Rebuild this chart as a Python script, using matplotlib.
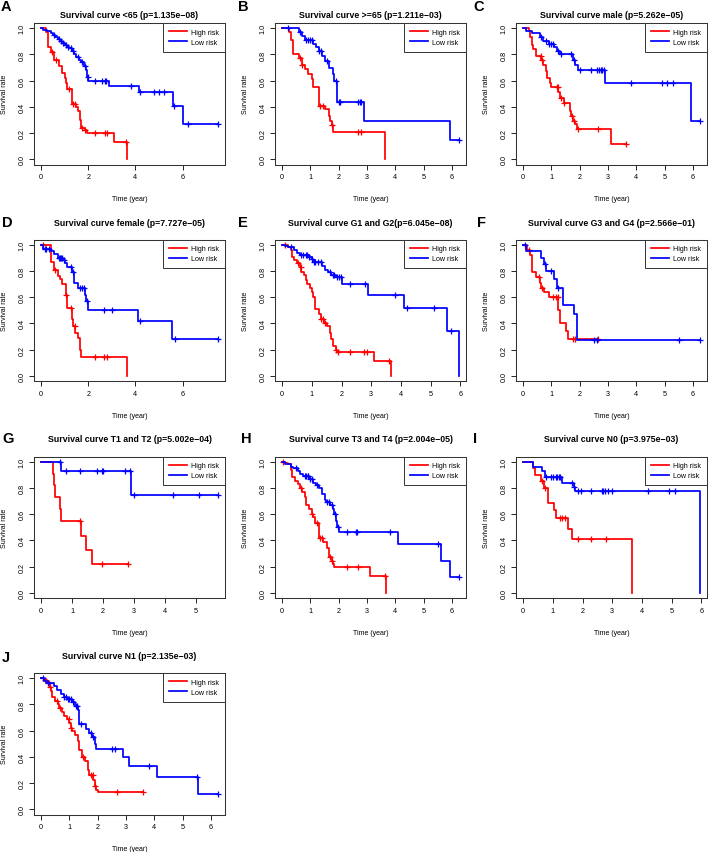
import numpy as np
import matplotlib
matplotlib.use("Agg")
import matplotlib.pyplot as plt

plt.rcParams['font.family'] = ['Liberation Sans', 'DejaVu Sans']

# ---- data: drop times (t), survival after drop (s), censor times (c)
a_hi_t = [0.2, 0.3, 0.4, 0.55, 0.75, 0.9, 1.0, 1.05, 1.1, 1.3, 1.5, 1.55, 1.65, 1.7, 1.85, 1.95, 3.1, 3.66]
a_hi_s = [0.97, 0.86, 0.82, 0.76, 0.71, 0.66, 0.62, 0.58, 0.54, 0.42, 0.40, 0.37, 0.30, 0.24, 0.22, 0.20, 0.13, 0.0]
a_hi_c = [0.45, 0.65, 1.2, 1.35, 1.45, 1.75, 1.85, 2.3, 2.7, 2.8, 3.62]
a_lo_t = [0.1, 0.25, 0.4, 0.5, 0.6, 0.7, 0.8, 0.9, 1.0, 1.1, 1.2, 1.3, 1.4, 1.5, 1.6, 1.7, 1.8, 1.9, 1.95, 2.0, 2.9, 4.15, 5.6, 6.0]
a_lo_s = [0.99, 0.98, 0.96, 0.95, 0.93, 0.92, 0.90, 0.89, 0.87, 0.86, 0.85, 0.83, 0.80, 0.78, 0.76, 0.74, 0.71, 0.68, 0.63, 0.60, 0.56, 0.51, 0.41, 0.27]
a_lo_c = [0.55, 0.75, 0.85, 0.95, 1.05, 1.15, 1.25, 1.35, 1.55, 1.75, 1.85, 1.97, 2.3, 2.6, 2.7, 2.75, 3.8, 4.2, 4.8, 5.0, 5.2, 5.65, 6.25, 7.5]

b_hi_t = [0.25, 0.3, 0.4, 0.6, 0.7, 0.8, 0.9, 1.05, 1.1, 1.3, 1.5, 1.65, 1.7, 1.75, 1.8, 3.65]
b_hi_s = [0.97, 0.91, 0.80, 0.77, 0.72, 0.69, 0.65, 0.61, 0.55, 0.41, 0.38, 0.33, 0.29, 0.26, 0.21, 0.0]
b_hi_c = [0.62, 0.72, 1.35, 1.45, 1.78, 2.7, 2.8]
b_lo_t = [0.6, 0.7, 0.8, 1.1, 1.2, 1.3, 1.4, 1.5, 1.65, 1.8, 1.85, 1.95, 2.9, 5.95]
b_lo_s = [0.97, 0.94, 0.91, 0.88, 0.86, 0.83, 0.79, 0.75, 0.70, 0.65, 0.60, 0.44, 0.29, 0.15]
b_lo_c = [0.2, 0.65, 0.85, 0.9, 1.0, 1.05, 1.32, 1.36, 1.6, 1.9, 2.0, 2.05, 2.7, 2.75, 2.8, 6.25]

c_hi_t = [0.2, 0.25, 0.3, 0.35, 0.45, 0.65, 0.7, 0.8, 0.85, 0.95, 1.0, 1.25, 1.3, 1.45, 1.65, 1.7, 1.75, 1.85, 1.9, 3.1]
c_hi_s = [0.98, 0.93, 0.87, 0.84, 0.79, 0.76, 0.72, 0.67, 0.62, 0.58, 0.55, 0.51, 0.47, 0.43, 0.37, 0.33, 0.29, 0.27, 0.23, 0.12]
c_hi_c = [0.62, 0.68, 1.2, 1.23, 1.35, 1.45, 1.72, 1.8, 1.95, 2.65, 3.65]
c_lo_t = [0.1, 0.3, 0.6, 0.7, 0.9, 1.1, 1.2, 1.3, 1.75, 1.85, 1.95, 2.9, 5.95]
c_lo_s = [0.98, 0.96, 0.93, 0.90, 0.88, 0.86, 0.83, 0.80, 0.76, 0.72, 0.68, 0.58, 0.29]
c_lo_c = [0.62, 0.8, 0.92, 1.0, 1.05, 1.25, 1.35, 1.7, 1.8, 2.0, 2.4, 2.6, 2.7, 2.75, 2.8, 2.85, 3.8, 4.9, 5.1, 5.3, 6.25]

d_hi_t = [0.4, 0.55, 0.7, 0.8, 0.9, 1.05, 1.1, 1.3, 1.35, 1.45, 1.55, 1.65, 1.7, 3.65]
d_hi_s = [0.87, 0.81, 0.76, 0.74, 0.70, 0.62, 0.52, 0.43, 0.38, 0.33, 0.29, 0.20, 0.145, 0.0]
d_hi_c = [0.1, 0.6, 1.07, 1.25, 1.42, 2.3, 2.65, 2.8]
d_lo_t = [0.1, 0.4, 0.55, 0.7, 0.95, 1.0, 1.1, 1.3, 1.4, 1.55, 1.85, 1.9, 2.0, 4.1, 5.55]
d_lo_s = [0.97, 0.95, 0.93, 0.90, 0.88, 0.86, 0.83, 0.79, 0.71, 0.67, 0.62, 0.57, 0.505, 0.42, 0.28]
d_lo_c = [0.15, 0.2, 0.35, 0.75, 0.8, 0.85, 0.9, 0.97, 1.25, 1.35, 1.65, 1.75, 1.8, 1.95, 2.65, 3.0, 4.2, 5.7, 7.5]

e_hi_t = [0.2, 0.3, 0.35, 0.4, 0.5, 0.6, 0.65, 0.75, 0.8, 0.85, 0.95, 1.0, 1.05, 1.1, 1.25, 1.3, 1.4, 1.5, 1.6, 1.65, 1.7, 1.8, 1.85, 3.1, 3.66]
e_hi_s = [0.98, 0.96, 0.91, 0.88, 0.86, 0.83, 0.79, 0.77, 0.73, 0.70, 0.67, 0.64, 0.60, 0.51, 0.47, 0.43, 0.40, 0.38, 0.33, 0.28, 0.23, 0.20, 0.18, 0.115, 0.0]
e_hi_c = [0.1, 0.52, 0.62, 1.32, 1.38, 1.45, 1.82, 1.87, 2.3, 2.75, 2.85, 3.6]
e_lo_t = [0.1, 0.2, 0.4, 0.5, 0.6, 0.9, 1.0, 1.05, 1.35, 1.45, 1.55, 1.65, 1.8, 2.0, 2.9, 4.1, 5.55, 5.95]
e_lo_s = [0.99, 0.98, 0.96, 0.94, 0.92, 0.91, 0.89, 0.87, 0.84, 0.81, 0.79, 0.77, 0.75, 0.70, 0.62, 0.52, 0.345, 0.0]
e_lo_c = [0.3, 0.65, 0.7, 0.8, 0.85, 0.92, 1.02, 1.07, 1.1, 1.2, 1.3, 1.6, 1.7, 1.75, 1.85, 1.9, 1.97, 2.3, 2.8, 3.8, 4.2, 5.1, 5.7]

f_hi_t = [0.15, 0.25, 0.3, 0.45, 0.6, 0.65, 0.75, 0.9, 1.25, 1.3, 1.5, 1.6]
f_hi_s = [0.96, 0.92, 0.79, 0.75, 0.71, 0.67, 0.64, 0.60, 0.50, 0.40, 0.34, 0.28]
f_hi_c = [0.2, 0.55, 0.67, 1.05, 1.15, 1.22, 1.75, 1.85, 2.65]
f_lo_t = [0.1, 0.65, 0.75, 0.8, 1.1, 1.2, 1.4, 1.8, 1.9]
f_lo_s = [0.95, 0.90, 0.85, 0.80, 0.74, 0.67, 0.54, 0.47, 0.27]
f_lo_c = [0.08, 0.78, 1.0, 1.25, 2.5, 2.6, 5.5, 6.25]

g_hi_t = [0.4, 0.42, 0.45, 0.6, 0.65, 1.3, 1.45, 1.65]
g_hi_s = [0.91, 0.82, 0.73, 0.64, 0.545, 0.435, 0.33, 0.22]
g_hi_c = [1.25, 1.95, 2.8]
g_lo_t = [0.65, 2.9]
g_lo_s = [0.93, 0.745]
g_lo_c = [0.62, 0.8, 1.25, 1.8, 1.95, 2.0, 2.7, 2.85, 3.0, 4.25, 5.1, 5.7]

h_hi_t = [0.1, 0.2, 0.3, 0.35, 0.45, 0.55, 0.65, 0.7, 0.8, 0.85, 0.95, 1.05, 1.1, 1.15, 1.3, 1.45, 1.6, 1.65, 1.75, 1.8, 1.85, 3.1, 3.66]
h_hi_s = [0.99, 0.98, 0.94, 0.88, 0.85, 0.83, 0.80, 0.77, 0.73, 0.67, 0.64, 0.60, 0.575, 0.53, 0.42, 0.39, 0.34, 0.27, 0.24, 0.22, 0.195, 0.125, 0.0]
h_hi_c = [0.05, 0.68, 1.07, 1.25, 1.35, 1.4, 1.7, 1.77, 2.3, 2.7, 3.62]
h_lo_t = [0.1, 0.3, 0.4, 0.55, 0.65, 0.75, 0.95, 1.1, 1.2, 1.3, 1.4, 1.5, 1.55, 1.7, 1.8, 1.85, 1.9, 1.95, 2.0, 4.1, 5.6, 5.95]
h_lo_s = [0.98, 0.96, 0.95, 0.93, 0.91, 0.89, 0.87, 0.84, 0.82, 0.80, 0.75, 0.71, 0.69, 0.67, 0.64, 0.60, 0.55, 0.50, 0.46, 0.37, 0.245, 0.12]
h_lo_c = [0.5, 0.8, 0.85, 0.9, 0.93, 1.0, 1.05, 1.25, 1.6, 1.65, 1.75, 1.87, 1.97, 2.3, 2.6, 2.65, 3.8, 5.5, 6.25]

i_hi_t = [0.35, 0.4, 0.6, 0.7, 0.85, 1.05, 1.1, 1.5, 1.65, 3.65]
i_hi_s = [0.95, 0.90, 0.85, 0.80, 0.685, 0.63, 0.57, 0.49, 0.41, 0.0]
i_hi_c = [0.65, 0.75, 1.25, 1.3, 1.4, 1.85, 2.3, 2.8]
i_lo_t = [0.35, 0.65, 0.75, 1.3, 1.7, 1.75, 5.95]
i_lo_s = [0.96, 0.93, 0.885, 0.84, 0.81, 0.78, 0.0]
i_lo_c = [0.78, 0.95, 1.0, 1.1, 1.15, 1.2, 1.25, 1.65, 1.72, 1.85, 1.95, 2.3, 2.65, 2.7, 2.75, 2.85, 3.0, 4.2, 4.9, 5.1]

j_hi_t = [0.1, 0.2, 0.25, 0.3, 0.35, 0.4, 0.5, 0.6, 0.65, 0.75, 0.8, 0.9, 1.0, 1.05, 1.1, 1.2, 1.3, 1.35, 1.45, 1.55, 1.65, 1.7, 1.85, 1.9, 1.95, 2.0]
j_hi_s = [0.99, 0.98, 0.96, 0.93, 0.90, 0.86, 0.83, 0.80, 0.77, 0.74, 0.71, 0.69, 0.66, 0.62, 0.60, 0.57, 0.52, 0.45, 0.40, 0.37, 0.30, 0.26, 0.22, 0.18, 0.15, 0.13]
j_hi_c = [0.15, 0.27, 0.32, 0.55, 0.68, 0.97, 1.07, 1.47, 1.78, 1.83, 1.92, 2.7, 3.6]
j_lo_t = [0.1, 0.2, 0.45, 0.55, 0.7, 0.8, 0.9, 1.1, 1.2, 1.3, 1.35, 1.6, 1.7, 1.8, 1.9, 1.95, 2.9, 3.1, 4.1, 5.55]
j_lo_s = [0.98, 0.96, 0.94, 0.91, 0.88, 0.86, 0.84, 0.82, 0.79, 0.76, 0.65, 0.61, 0.58, 0.55, 0.50, 0.46, 0.40, 0.33, 0.245, 0.12]
j_lo_c = [0.08, 0.25, 0.82, 0.87, 0.95, 1.0, 1.05, 1.12, 1.22, 1.27, 1.4, 1.75, 1.85, 2.5, 2.6, 3.8, 5.5, 6.25]

letters = ['A', 'B', 'C', 'D', 'E', 'F', 'G', 'H', 'I', 'J']
titles = ['Survival curve <65 (p=1.135e\u221208)',
          'Survival curve >=65 (p=1.211e\u221203)',
          'Survival curve male (p=5.262e\u221205)',
          'Survival curve female (p=7.727e\u221205)',
          'Survival curve G1 and G2(p=6.045e\u221208)',
          'Survival curve G3 and G4 (p=2.566e\u221201)',
          'Survival curve T1 and T2 (p=5.002e\u221204)',
          'Survival curve T3 and T4 (p=2.004e\u221205)',
          'Survival curve N0 (p=3.975e\u221203)',
          'Survival curve N1 (p=2.135e\u221203)']
xticks = [[0, 2, 4, 6], range(7), range(7), [0, 2, 4, 6], range(7),
          range(7), range(6), range(7), range(7), range(7)]
yticks = [0.0, 0.2, 0.4, 0.6, 0.8, 1.0]

high = [(a_hi_t, a_hi_s, a_hi_c), (b_hi_t, b_hi_s, b_hi_c), (c_hi_t, c_hi_s, c_hi_c),
        (d_hi_t, d_hi_s, d_hi_c), (e_hi_t, e_hi_s, e_hi_c), (f_hi_t, f_hi_s, f_hi_c),
        (g_hi_t, g_hi_s, g_hi_c), (h_hi_t, h_hi_s, h_hi_c), (i_hi_t, i_hi_s, i_hi_c),
        (j_hi_t, j_hi_s, j_hi_c)]
low = [(a_lo_t, a_lo_s, a_lo_c), (b_lo_t, b_lo_s, b_lo_c), (c_lo_t, c_lo_s, c_lo_c),
       (d_lo_t, d_lo_s, d_lo_c), (e_lo_t, e_lo_s, e_lo_c), (f_lo_t, f_lo_s, f_lo_c),
       (g_lo_t, g_lo_s, g_lo_c), (h_lo_t, h_lo_s, h_lo_c), (i_lo_t, i_lo_s, i_lo_c),
       (j_lo_t, j_lo_s, j_lo_c)]

W, H = 708, 853
fig = plt.figure(figsize=(W / 100, H / 100), dpi=100)

col_left = [34, 275, 516]
row_top = [24, 240.5, 457.5, 674]
title_y = [15, 223, 439, 657]
letter_xy = [(6, 7), (243, 7), (479, 7), (7, 223), (243, 223), (482, 223),
             (8, 439), (246, 439), (475, 439), (6, 658)]
aw, ah = 191, 141.5
fs = 5.0


def km(ax, t, s, c, color, label):
    x = np.array([0.0] + list(t))
    y = np.array([1.0] + list(s))
    end = max(x[-1], max(c))
    ax.step(np.append(x, end), np.append(y, y[-1]), where='post', color=color, lw=1.25, label=label)
    cy = y[np.searchsorted(x, c, side='right') - 1]
    ax.plot(c, cy, '+', color=color, ms=4.8, mew=0.9)
    return end


for k in range(10):
    r, col = divmod(k, 3)
    l, top = col_left[col], row_top[r]
    ax = fig.add_axes([l / W, 1 - (top + ah) / H, aw / W, ah / H])
    e1 = km(ax, *high[k], '#FF0000', 'High risk')
    e2 = km(ax, *low[k], '#0000FF', 'Low risk')
    tmax = max(e1, e2)
    ax.set_xlim(-0.04 * tmax, 1.04 * tmax)
    ax.set_ylim(-0.04, 1.04)
    ax.set_xticks(list(xticks[k]))
    ax.set_yticks(yticks)
    ax.set_yticklabels(['%.1f' % v for v in yticks], rotation=90, va='center')
    ax.tick_params(direction='out', length=3.6, width=0.6, pad=2.6, labelsize=5.2, colors='black')
    for sp in ax.spines.values():
        sp.set_linewidth(0.75)
        sp.set_color('#333333')
    ax.set_xlabel('Time (year)', fontsize=fs)
    ax.set_ylabel('Survival rate', fontsize=fs)
    ax.xaxis.set_label_coords(0.5, -31 / ah)
    ax.yaxis.set_label_coords(-26 / aw, 0.5)
    leg = ax.legend(loc='upper right', fontsize=5.1, borderaxespad=0, fancybox=False,
                    framealpha=1, edgecolor='#333333', handlelength=2.6, handletextpad=0.6,
                    labelspacing=0.45, borderpad=0.8)
    leg.get_frame().set_linewidth(0.7)
    fig.text((l + aw / 2) / W, 1 - title_y[r] / H, titles[k], ha='center', va='center',
             fontsize=6.3, fontweight='bold')
    lx, ly = letter_xy[k]
    fig.text(lx / W, 1 - ly / H, letters[k], ha='center', va='center',
             fontsize=10.5, fontweight='bold')

fig.savefig('out.png', dpi=100)
